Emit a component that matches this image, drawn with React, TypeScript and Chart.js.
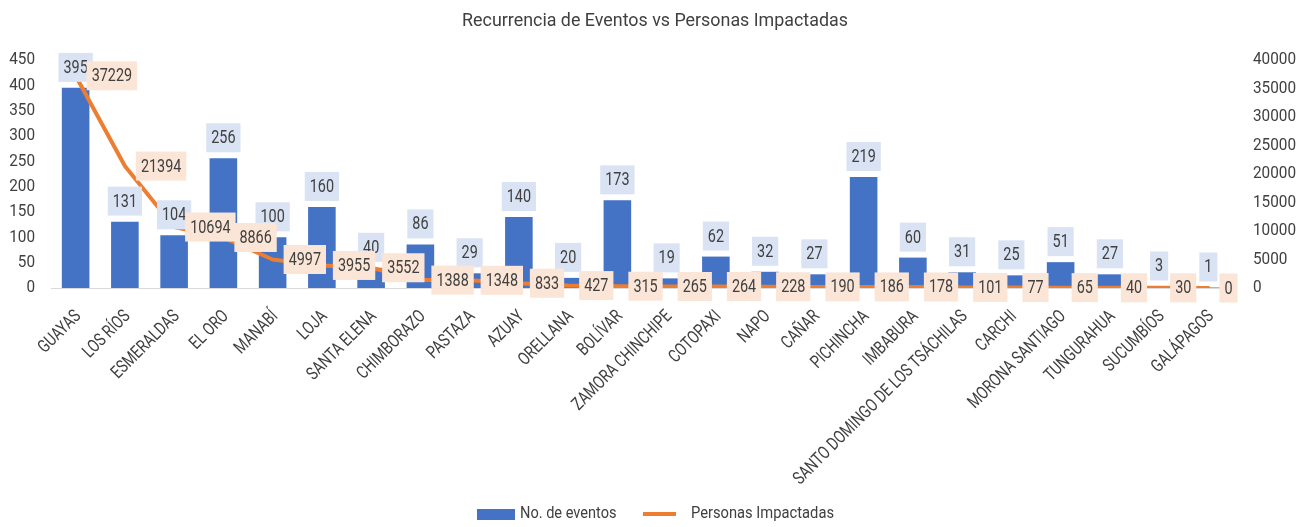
import React, { useEffect, useRef } from "react";
import { Chart, registerables } from "chart.js";

Chart.register(...registerables);

const categories = [
  "GUAYAS", "LOS RÍOS", "ESMERALDAS", "EL ORO", "MANABÍ", "LOJA", "SANTA ELENA",
  "CHIMBORAZO", "PASTAZA", "AZUAY", "ORELLANA", "BOLÍVAR", "ZAMORA CHINCHIPE",
  "COTOPAXI", "NAPO", "CAÑAR", "PICHINCHA", "IMBABURA",
  "SANTO DOMINGO DE LOS TSÁCHILAS", "CARCHI", "MORONA SANTIAGO", "TUNGURAHUA",
  "SUCUMBÍOS", "GALÁPAGOS",
];

const eventos = [395, 131, 104, 256, 100, 160, 40, 86, 29, 140, 20, 173, 19, 62, 32, 27, 219, 60, 31, 25, 51, 27, 3, 1];

const personas = [37229, 21394, 10694, 8866, 4997, 3955, 3552, 1388, 1348, 833, 427, 315, 265, 264, 228, 190, 186, 178, 101, 77, 65, 40, 30, 0];

const leftTicks = [0, 50, 100, 150, 200, 250, 300, 350, 400, 450];
const rightTicks = [0, 5000, 10000, 15000, 20000, 25000, 30000, 35000, 40000];

const TITLE = "Recurrencia de Eventos vs Personas Impactadas";
const SERIES_BAR = "No. de eventos";
const SERIES_LINE = "Personas Impactadas";

const FONT = "Roboto, 'Noto Sans', sans-serif";
const TEXT = "#404040";
const BLUE = "#4472C4";
const ORANGE = "#ED7D31";

function txt(ctx: any, s: string, x: number, y: number, sx: number, align: string) {
  ctx.save();
  ctx.translate(x, y);
  ctx.scale(sx, 1);
  ctx.textAlign = align;
  ctx.fillText(s, 0, 0);
  ctx.restore();
}

const boxLabels = {
  id: "boxLabels",
  afterDatasetsDraw(chart: any) {
    const ctx = chart.ctx;
    ctx.save();
    ctx.font = `18px ${FONT}`;
    ctx.textBaseline = "middle";
    const sx = 0.8;
    const h = 29;
    const bm = chart.getDatasetMeta(0);
    bm.data.forEach((el: any, i: number) => {
      const t = String(eventos[i]);
      const w = ctx.measureText(t).width * sx + 10;
      const bottom = el.y - 6;
      ctx.fillStyle = "#DAE3F3";
      ctx.fillRect(el.x - w / 2, bottom - h, w, h);
      ctx.fillStyle = TEXT;
      txt(ctx, t, el.x, bottom - h / 2 + 1, sx, "center");
    });
    const lm = chart.getDatasetMeta(1);
    lm.data.forEach((el: any, i: number) => {
      const t = String(personas[i]);
      const w = ctx.measureText(t).width * sx + 10;
      const left = el.x + 11;
      ctx.fillStyle = "#FBE5D6";
      ctx.fillRect(left, el.y - h / 2, w, h);
      ctx.fillStyle = TEXT;
      txt(ctx, t, left + w / 2, el.y + 1, sx, "center");
    });
    ctx.restore();
  },
  afterDraw(chart: any) {
    const ctx = chart.ctx;
    const xs = chart.scales.x;
    const yl = chart.scales.y;
    const yr = chart.scales.y1;
    ctx.save();
    ctx.fillStyle = TEXT;
    ctx.textBaseline = "middle";
    // title
    ctx.font = `19px ${FONT}`;
    txt(ctx, TITLE, chart.width / 2, 21, 0.94, "center");
    // y axes
    ctx.font = `17px ${FONT}`;
    leftTicks.forEach((v) => txt(ctx, String(v), 35, yl.getPixelForValue(v), 0.9, "right"));
    rightTicks.forEach((v) => txt(ctx, String(v), 1253, yr.getPixelForValue(v), 0.9, "left"));
    // x labels
    ctx.font = `18px ${FONT}`;
    ctx.textBaseline = "alphabetic";
    categories.forEach((c, i) => {
      const x = xs.getPixelForTick(i);
      ctx.save();
      ctx.translate(x + 6, xs.top + 29);
      ctx.rotate(-Math.PI / 4);
      ctx.scale(0.775, 1);
      ctx.textAlign = "right";
      ctx.fillText(c, 0, 0);
      ctx.restore();
    });
    // legend
    ctx.textBaseline = "middle";
    ctx.font = `16px ${FONT}`;
    const y = 514;
    ctx.fillStyle = BLUE;
    ctx.fillRect(477, y - 5, 38, 11);
    ctx.fillStyle = TEXT;
    txt(ctx, SERIES_BAR, 520, y, 0.91, "left");
    ctx.strokeStyle = ORANGE;
    ctx.lineWidth = 4;
    ctx.beginPath();
    ctx.moveTo(643, y);
    ctx.lineTo(676, y);
    ctx.stroke();
    txt(ctx, SERIES_LINE, 691, y, 0.92, "left");
    ctx.restore();
  },
};

export default function App() {
  const ref = useRef<HTMLCanvasElement | null>(null);
  useEffect(() => {
    if (!ref.current) return;
    const chart = new Chart(ref.current, {
      type: "bar",
      data: {
        labels: categories,
        datasets: [
          {
            type: "bar",
            label: SERIES_BAR,
            data: eventos,
            backgroundColor: BLUE,
            barPercentage: 0.56,
            categoryPercentage: 1,
            yAxisID: "y",
            order: 1,
          },
          {
            type: "line",
            label: SERIES_LINE,
            data: personas,
            borderColor: ORANGE,
            backgroundColor: ORANGE,
            borderWidth: 4,
            pointRadius: 0,
            tension: 0,
            borderJoinStyle: "round",
            borderCapStyle: "round",
            yAxisID: "y1",
            order: 0,
          },
        ],
      } as any,
      options: {
        animation: false,
        responsive: true,
        maintainAspectRatio: false,
        layout: { padding: { left: 0, right: 0, top: 60, bottom: 40 } },
        plugins: {
          legend: { display: false },
          tooltip: { enabled: false },
          title: { display: false },
        },
        scales: {
          x: {
            grid: { display: false, drawTicks: false },
            border: { display: true, color: "#D9D9D9", width: 1 },
            ticks: { display: false },
            afterFit: (s: any) => {
              s.height = 199;
            },
          },
          y: {
            position: "left",
            min: 0,
            max: leftTicks[leftTicks.length - 1],
            ticks: { display: false, stepSize: leftTicks[1] - leftTicks[0] },
            grid: { display: false, drawTicks: false },
            border: { display: false },
            afterFit: (s: any) => {
              s.width = 51;
            },
          },
          y1: {
            position: "right",
            min: 0,
            max: rightTicks[rightTicks.length - 1],
            ticks: { display: false, stepSize: rightTicks[1] - rightTicks[0] },
            grid: { display: false, drawTicks: false },
            border: { display: false },
            afterFit: (s: any) => {
              s.width = 77;
            },
          },
        },
      } as any,
      plugins: [boxLabels],
    });
    return () => chart.destroy();
  }, []);
  return (
    <div style={{ position: "absolute", left: 0, top: 0, width: 1310, height: 527, background: "#fff" }}>
      <canvas ref={ref} />
    </div>
  );
}
